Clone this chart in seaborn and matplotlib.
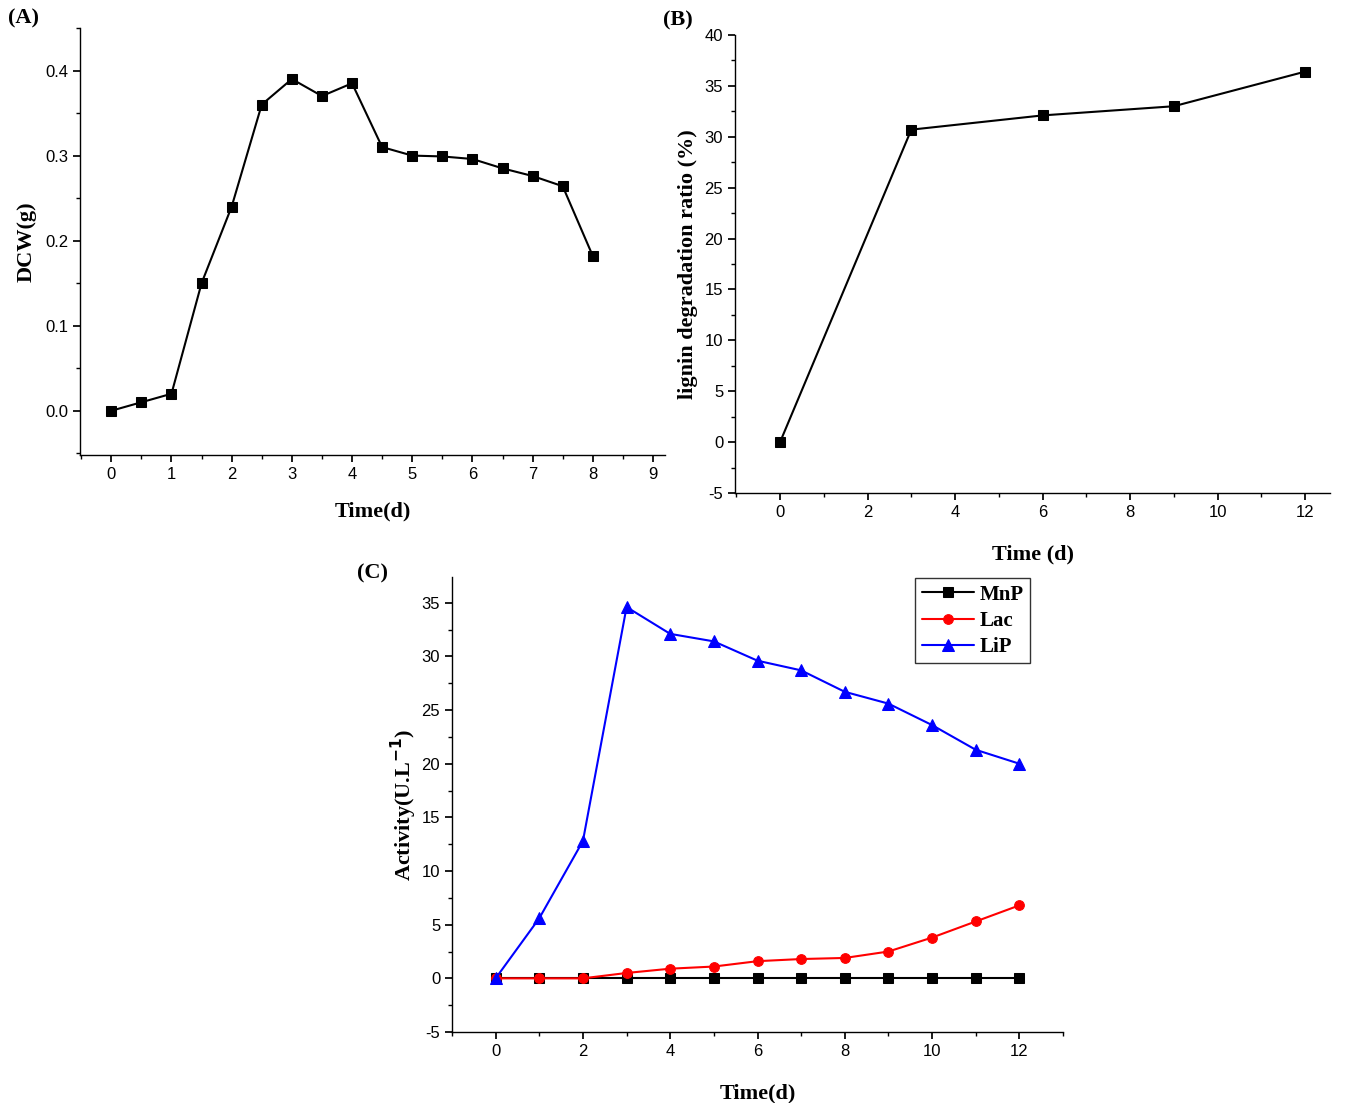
import matplotlib
matplotlib.use("Agg")
import matplotlib.pyplot as plt
import seaborn as sns
import pandas as pd
from matplotlib.ticker import MultipleLocator

sns.set_theme(style="ticks")
plt.rcParams['font.family'] = ['Liberation Sans', 'DejaVu Sans']
plt.rcParams['axes.unicode_minus'] = False
plt.rcParams['text.color'] = 'black'
plt.rcParams['axes.labelcolor'] = 'black'

a_time = [0,0.5,1,1.5,2,2.5,3,3.5,4,4.5,5,5.5,6,6.5,7,7.5,8]
a_dcw = [0,0.01,0.02,0.15,0.24,0.36,0.39,0.37,0.385,0.31,0.30,0.299,0.296,0.285,0.276,0.264,0.182]
b_time = [0,3,6,9,12]
b_ratio = [0,30.7,32.1,33.0,36.4]
c_time = list(range(13))
c_mnp = [0,0,0,0,0,0,0,0,0,0,0,0,0]
c_lac = [0,0,0,0.5,0.9,1.1,1.6,1.8,1.9,2.5,3.8,5.3,6.8]
c_lip = [0,5.6,12.8,34.6,32.1,31.4,29.6,28.7,26.7,25.6,23.6,21.3,20.0]

W, H = 1354, 1103
fig = plt.figure(figsize=(W/100, H/100), dpi=100)
def ax_at(l, t, r, b):
    return fig.add_axes([l/W, 1-b/H, (r-l)/W, (b-t)/H])

serif = dict(family='Liberation Serif', fontweight='bold')

def style(ax):
    for s in ['top','right']:
        ax.spines[s].set_visible(False)
    for s in ['left','bottom']:
        ax.spines[s].set_color('black'); ax.spines[s].set_linewidth(1)
    ax.tick_params(which='both', direction='out', colors='black', labelsize=12)
    ax.tick_params(which='minor', length=3)
    ax.tick_params(which='major', length=5)

# A
ax = ax_at(80, 28, 665, 455)
sns.lineplot(x=a_time, y=a_dcw, ax=ax, color='black', marker='s', markersize=7, markeredgecolor='black', lw=1.5)
ax.set_xlim(-0.52, 9.2); ax.set_ylim(-0.052, 0.45)
ax.xaxis.set_major_locator(MultipleLocator(1)); ax.xaxis.set_minor_locator(MultipleLocator(0.5))
ax.yaxis.set_major_locator(MultipleLocator(0.1)); ax.yaxis.set_minor_locator(MultipleLocator(0.05))
ax.yaxis.set_major_formatter(matplotlib.ticker.FormatStrFormatter('%.1f'))
style(ax)
ax.set_xlabel('Time(d)', fontsize=16, labelpad=14, **serif)
ax.set_ylabel('DCW(g)', fontsize=16, labelpad=6, **serif)
fig.text(8/W, 1-18/H, '(A)', fontsize=16, va='center', **serif)

# B
ax = ax_at(735, 35, 1330, 493)
sns.lineplot(x=b_time, y=b_ratio, ax=ax, color='black', marker='s', markersize=7, markeredgecolor='black', lw=1.5)
ax.set_xlim(-1.03, 12.57); ax.set_ylim(-5, 40)
ax.xaxis.set_major_locator(MultipleLocator(2)); ax.xaxis.set_minor_locator(MultipleLocator(1))
ax.yaxis.set_major_locator(MultipleLocator(5)); ax.yaxis.set_minor_locator(MultipleLocator(2.5))
style(ax)
ax.set_xlabel('Time (d)', fontsize=16, labelpad=18, **serif)
ax.set_ylabel('lignin degradation ratio (%)', fontsize=16, labelpad=5, **serif)
fig.text(663/W, 1-20/H, '(B)', fontsize=16, va='center', **serif)

# C
ax = ax_at(452, 577, 1063, 1032)
sns.lineplot(x=c_time, y=c_mnp, ax=ax, color='black', marker='s', markersize=7, markeredgecolor='black', lw=1.5, label='MnP')
sns.lineplot(x=c_time, y=c_lac, ax=ax, color='red', marker='o', markersize=7, markeredgecolor='red', lw=1.5, label='Lac')
sns.lineplot(x=c_time, y=c_lip, ax=ax, color='blue', marker='^', markersize=8, markeredgecolor='blue', lw=1.5, label='LiP')
ax.set_xlim(-1.0, 13.0); ax.set_ylim(-5, 37.4)
ax.xaxis.set_major_locator(MultipleLocator(2)); ax.xaxis.set_minor_locator(MultipleLocator(1))
ax.yaxis.set_major_locator(MultipleLocator(5)); ax.yaxis.set_minor_locator(MultipleLocator(2.5))
style(ax)
ax.set_xlabel('Time(d)', fontsize=16, labelpad=18, **serif)
ax.set_ylabel(r'Activity(U.L$^{\mathbf{-1}}$)', fontsize=16, labelpad=2, **serif)
leg = ax.legend(loc='upper left', bbox_to_anchor=((905-452)/611, 1-(568-577)/455), frameon=True, fancybox=False,
                edgecolor='black', prop=dict(family='Liberation Serif', weight='bold', size=15),
                handlelength=2.5, handletextpad=0.3, borderpad=0.3, labelspacing=0.3)
leg.get_frame().set_linewidth(1)
fig.text(357/W, 1-573/H, '(C)', fontsize=16, va='center', **serif)

fig.savefig('out.png', dpi=100, facecolor='white')
